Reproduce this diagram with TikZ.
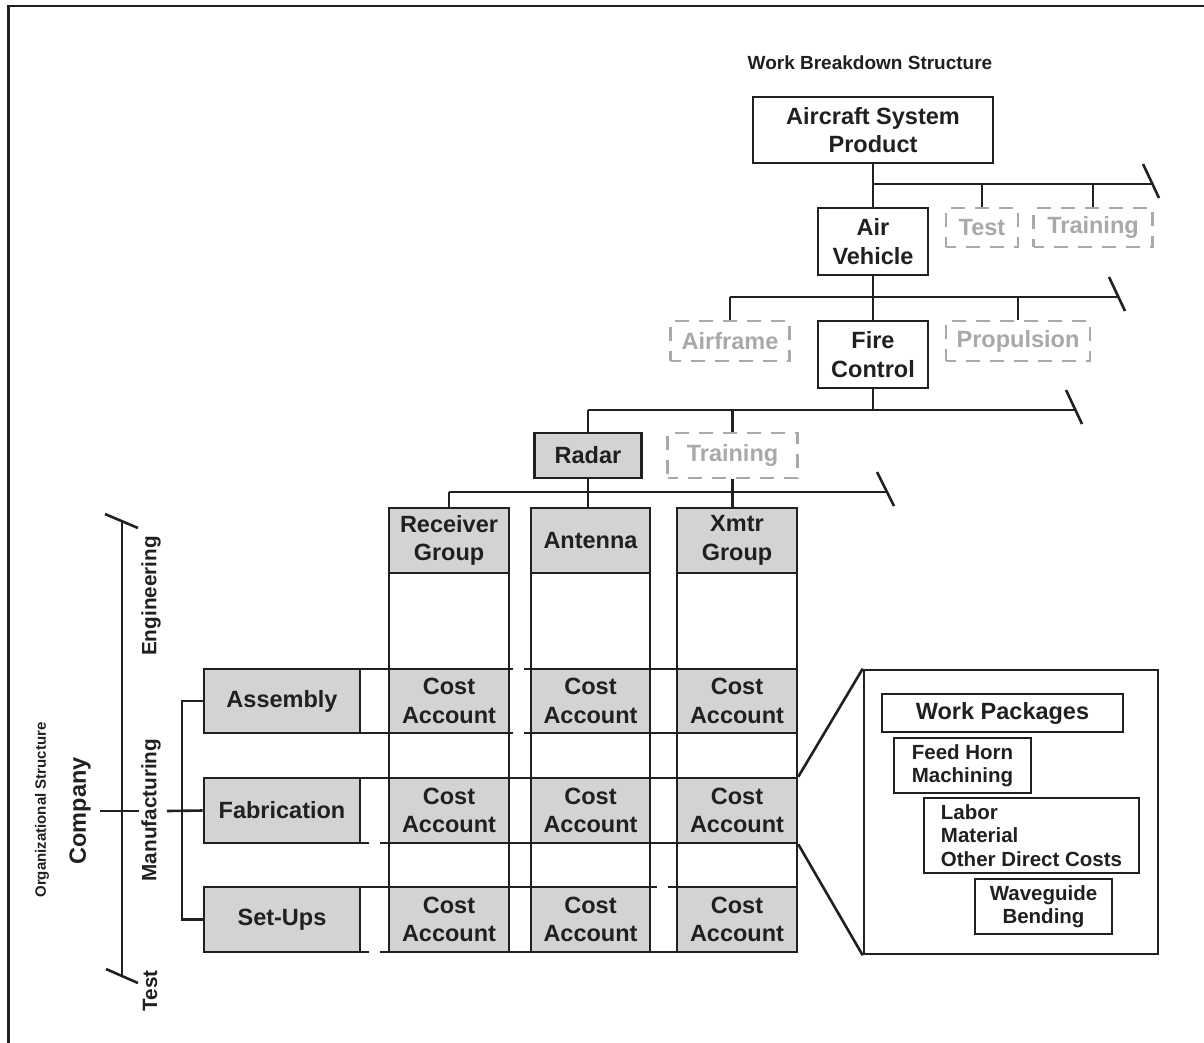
\documentclass[tikz,border=0pt]{standalone}
\usepackage{fontspec}
\setmainfont{Liberation Sans}
\definecolor{ink}{HTML}{231F20}
\definecolor{boxgray}{HTML}{D1D3D4}
\definecolor{dgray}{HTML}{A7A9AC}
\tikzset{
  ln/.style={line width=2.6pt, draw=ink},
  bx/.style={draw=ink, line width=2.6pt, fill=white, inner sep=0pt, align=center,
    font=\bfseries\fontsize{23.5}{28.5}\selectfont, text=ink},
  gbx/.style={bx, fill=boxgray},
  dbx/.style={bx, draw=dgray, text=dgray, line width=2.8pt, dash pattern=on 14pt off 10pt, dash phase=4pt},
  wbx/.style={draw=ink, line width=2.6pt, fill=white, inner sep=0pt,
    font=\bfseries\fontsize{20.5}{23.5}\selectfont, text=ink},
  vlabel/.style={rotate=90, inner sep=0pt, font=\bfseries\fontsize{20.7}{24}\selectfont, text=ink},
}
\begin{document}
\begin{tikzpicture}[x=1pt,y=-1pt]
\useasboundingbox (0,0) rectangle (1204,1042);
% frame
\draw[line width=2.6pt, ink] (8.5,1045) -- (8.5,6) -- (1210,6);

% title
\node[inner sep=0pt, text=ink, font=\bfseries\fontsize{19}{23}\selectfont] (title) at (870,63) {Work Breakdown Structure};

% WBS nodes
\node[bx, minimum width=240, minimum height=66] (asp) at (873,130) {Aircraft System\\Product};
\node[bx, minimum width=110, minimum height=67] (av) at (873,241.5) {Air\\Vehicle};
\node[dbx, minimum width=72, minimum height=39] (test) at (982,227.5) {Test};
\node[dbx, minimum width=119, minimum height=39] (tr1) at (1093,227.5) {Training};
\node[dbx, minimum width=119, minimum height=40] (af) at (730,341) {Airframe};
\node[bx, minimum width=110, minimum height=67] (fc) at (873,354.5) {Fire\\Control};
\node[dbx, minimum width=144, minimum height=40] (prop) at (1018,341) {Propulsion};
\node[gbx, minimum width=107, minimum height=45] (radar) at (588,455.5) {Radar};
\node[dbx, minimum width=130, minimum height=45] (tr2) at (732.5,455.5) {Training};

% bar 1
\coordinate (b1e) at (1152,184);
\draw[ln] (asp.south) -- (av.north);
\draw[ln] (asp.south |- b1e) -- (b1e);
\draw[ln] (b1e) +(-9,-20) -- +(7,14);
\draw[ln] (test.north) -- (test.north |- b1e);
\draw[ln] (tr1.north) -- (tr1.north |- b1e);
% bar 2
\coordinate (b2e) at (1118,297);
\draw[ln] (av.south) -- (fc.north);
\draw[ln] (af.north |- b2e) -- (b2e);
\draw[ln] (b2e) +(-9,-20) -- +(7,14);
\draw[ln] (af.north) -- (af.north |- b2e);
\draw[ln] (prop.north) -- (prop.north |- b2e);
% bar 3
\coordinate (b3e) at (1075,410);
\draw[ln] (fc.south) -- (fc.south |- b3e);
\draw[ln] (radar.north |- b3e) -- (b3e);
\draw[ln] (b3e) +(-9,-20) -- +(7,14);
\draw[ln] (radar.north) -- (radar.north |- b3e);
\draw[ln] (tr2.north) -- (tr2.north |- b3e);

% columns and grid
\node[gbx, minimum width=120, minimum height=65] (rg) at (449,540.5) {Receiver\\Group};
\node[gbx, minimum width=119, minimum height=65] (ant) at (590.5,540.5) {Antenna};
\node[gbx, minimum width=120, minimum height=65] (xg) at (737,540.5) {Xmtr\\Group};

\draw[ln, fill=white] (389,508) rectangle (509,952);
\draw[ln, fill=white] (531,508) rectangle (650,952);
\draw[ln, fill=white] (677,508) rectangle (797,952);

% bar 4
\coordinate (b4e) at (888,492);
\draw[ln] (radar.south) -- (radar.south |- ant.north);
\draw[ln] (rg.north |- b4e) -- (b4e);
\draw[ln] (b4e) +(-11,-20) -- +(6,14);
\draw[ln] (rg.north) -- (rg.north |- b4e);
\draw[ln] (tr2.south) -- (tr2.south |- xg.north);

% row lines
\draw[ln] (360,669) -- (513,669) (524,669) -- (797,669);
\draw[ln] (360,733) -- (513,733) (524,733) -- (797,733);
\draw[ln] (360,778) -- (797,778);
\draw[ln] (360,843) -- (369,843) (380,843) -- (797,843);
\draw[ln] (360,887) -- (657,887) (668,887) -- (797,887);
\draw[ln] (360,952) -- (369,952) (380,952) -- (797,952);

% headers redrawn on top
\node[gbx, minimum width=120, minimum height=65] at (rg) {Receiver\\Group};
\node[gbx, minimum width=119, minimum height=65] at (ant) {Antenna};
\node[gbx, minimum width=120, minimum height=65] at (xg) {Xmtr\\Group};

% cost accounts
\node[gbx, minimum width=120, minimum height=64] (c11) at (449,701) {Cost\\Account};
\node[gbx, minimum width=119, minimum height=64] (c12) at (590.5,701) {Cost\\Account};
\node[gbx, minimum width=120, minimum height=64] (c13) at (737,701) {Cost\\Account};
\node[gbx, minimum width=120, minimum height=65] (c21) at (449,810.5) {Cost\\Account};
\node[gbx, minimum width=119, minimum height=65] (c22) at (590.5,810.5) {Cost\\Account};
\node[gbx, minimum width=120, minimum height=65] (c23) at (737,810.5) {Cost\\Account};
\node[gbx, minimum width=120, minimum height=65] (c31) at (449,919.5) {Cost\\Account};
\node[gbx, minimum width=119, minimum height=65] (c32) at (590.5,919.5) {Cost\\Account};
\node[gbx, minimum width=120, minimum height=65] (c33) at (737,919.5) {Cost\\Account};

% organisation
\node[gbx, minimum width=156, minimum height=64] (asm) at (282,701) {Assembly};
\node[gbx, minimum width=156, minimum height=65] (fab) at (282,810.5) {Fabrication};
\node[gbx, minimum width=156, minimum height=65] (sup) at (282,919.5) {Set-Ups};

\coordinate (ot) at (122,522);
\coordinate (ob) at (122,975);
\draw[ln] (ot) -- (ob);
\draw[ln] (105,514) -- (138,528);
\draw[ln] (106,969) -- (138,983);
\draw[ln] (100,811) -- (139,811);
\draw[ln] (167,811) -- (fab.west);
\draw[ln] (asm.west) -- (182,701) -- (182,919.5) -- (sup.west);

\node[rotate=90, inner sep=0pt, text=ink, font=\bfseries\fontsize{15}{18}\selectfont] (os) at (42,810) {Organizational Structure};
\node[rotate=90, inner sep=0pt, text=ink, font=\bfseries\fontsize{23.5}{26}\selectfont] (comp) at (80,811) {Company};
\node[vlabel] (eng) at (151,596) {Engineering};
\node[vlabel] (man) at (151,810) {Manufacturing};
\node[vlabel] (tst) at (150,991) {Test};

% work packages panel
\node[draw=ink, line width=2.6pt, fill=white, minimum width=294, minimum height=284] (wp) at (1011,812) {};
\draw[ln] (c23.north east) -- (wp.north west);
\draw[ln] (c23.south east) -- (wp.south west);
\node[wbx, minimum width=241, minimum height=38, font=\bfseries\fontsize{23.5}{28}\selectfont] (wpk) at (1002.5,713) {Work Packages};
\node[wbx, minimum width=137, minimum height=55, align=left] (feed) at (962.5,765.5) {Feed Horn\\Machining};
\node[wbx, minimum width=215, minimum height=75, align=left] (lab) at (1031.5,835.5) {Labor\\Material\\Other Direct Costs};
\node[wbx, minimum width=137, minimum height=55, align=center] (wav) at (1043.5,906.5) {Waveguide\\Bending};
\end{tikzpicture}
\end{document}
